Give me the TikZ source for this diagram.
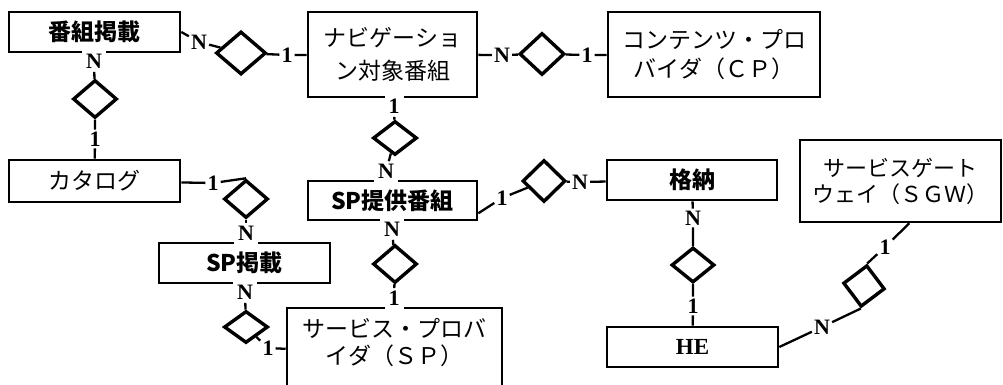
\documentclass[tikz,border=0pt]{standalone}
\usepackage{fontspec}
\setmainfont{Liberation Serif}
\newfontfamily\jp{Noto Sans CJK JP}
\usetikzlibrary{shapes.geometric,calc}
\begin{document}
\begin{tikzpicture}[x=1pt,y=-1pt,
  ent/.style={draw, line width=2.6pt, rectangle, inner sep=0pt, align=center},
  rel/.style={draw, diamond, line width=3.4pt, inner sep=0pt},
  lbl/.style={font=\bfseries\fontsize{22}{22}\selectfont, inner xsep=2pt, inner ysep=2pt},
  gaplbl/.style={lbl, fill=white, inner xsep=4pt, inner ysep=3pt},
  jfont/.style={font=\jp\fontsize{23}{#1}\selectfont},
  jbold/.style={font=\jp\bfseries\fontsize{23}{23}\selectfont},
  conn/.style={line width=2.3pt},
]
\useasboundingbox (0,0) rectangle (1003,385);
\clip (0,0) rectangle (1003,385);

% entities
\node[ent, jbold, minimum width=171pt, minimum height=40pt] (A) at (94.5,32) {番組掲載};
\node[ent, jfont=33, minimum width=169pt, minimum height=85pt] (B) at (392.5,54.5) {ナビゲーショ\\ン対象番組};
\node[ent, jfont=29, minimum width=212pt, minimum height=85pt] (C) at (714,54.5) {コンテンツ・プロ\\バイダ（ＣＰ）};
\node[ent, jfont=23, minimum width=171pt, minimum height=42pt] (D) at (94.5,181) {カタログ};
\node[ent, jbold, minimum width=169pt, minimum height=39pt] (G) at (392.5,200.5) {SP提供番組};
\node[ent, jbold, minimum width=170pt, minimum height=40pt] (H) at (692,180) {格納};
\node[ent, jbold, minimum width=171pt, minimum height=40pt] (E) at (244.5,263) {SP掲載};
\node[ent, font=\jp\fontsize{22}{26}\selectfont, minimum width=201pt, minimum height=82pt] (J) at (900.5,181) {サービスゲート\\ウェイ（ＳＧＷ）};
\node[ent, font=\bfseries\fontsize{23}{23}\selectfont, minimum width=171pt, minimum height=40pt] (I) at (692.5,347) {HE};
\node[ent, minimum width=215pt, minimum height=92pt] (F) at (394.5,354) {};
\node[jfont=27, align=center] (Ft) at (394.5,343) {サービス・プロバ\\イダ（ＳＰ）};

% relationships
\node[rel, minimum width=50pt, minimum height=43pt] (dAB) at (241,53) {};
\node[rel, minimum width=45pt, minimum height=42pt] (dBC) at (542,54) {};
\node[rel, minimum width=44pt, minimum height=38pt] (dAD) at (95,99) {};
\node[rel, minimum width=44pt, minimum height=38pt] (dDE) at (246,199) {};
\node[rel, minimum width=44pt, minimum height=34pt] (dBG) at (395,138) {};
\node[rel, minimum width=44pt, minimum height=38pt] (dGF) at (395,264) {};
\node[rel, minimum width=43pt, minimum height=42pt] (dGH) at (544,181) {};
\node[rel, minimum width=43pt, minimum height=35pt] (dHI) at (693,265) {};
\node[rel, minimum width=44pt, minimum height=32pt] (dEF) at (246,327) {};
\node[rel, minimum width=42pt, minimum height=42pt, rotate=-8] (dIJ) at (864,286) {};

% cardinality labels
\node[lbl] (nAB) at (199,42) {N};
\node[lbl] (oAB) at (287,55) {1};
\node[lbl] (nBC) at (502,55) {N};
\node[lbl] (oBC) at (587,55) {1};
\node[gaplbl, anchor=north] (nAD) at (94,51) {N};
\node[lbl] (oAD) at (95,139) {1};
\node[lbl] (oDE) at (213,183) {1};
\node[gaplbl, anchor=south] (nDE) at (246,244) {N};
\node[gaplbl, anchor=north] (nEF) at (245,282) {N};
\node[lbl] (oEF) at (268,348) {1};
\node[gaplbl, anchor=north] (oBG) at (394,96) {1};
\node[gaplbl, anchor=south] (nBG) at (386,182) {N};
\node[gaplbl, anchor=north] (nGF) at (392,219) {N};
\node[gaplbl, anchor=south] (oGF) at (394,309) {1};
\node[lbl] (oGH) at (502,198) {1};
\node[lbl] (nGH) at (580,182) {N};
\node[lbl] (nHI) at (693,218) {N};
\node[lbl] (oHI) at (693,306) {1};
\node[lbl] (nIJ) at (822,327) {N};
\node[lbl] (oIJ) at (885,247) {1};

% connectors
\draw[conn] (A.east) -- (nAB) -- (dAB) -- (oAB) -- (B);
\draw[conn] (B) -- (nBC) -- (dBC) -- (oBC) -- (C);
\draw[conn] (nAD) -- (dAD) -- (oAD) -- (D);
\draw[conn] (D) -- (oDE) -- (dDE.north);
\draw[conn] (dDE) -- (nDE);
\draw[conn] (nEF) -- (dEF) -- (oEF) -- (F);
\draw[conn] (oBG) -- (dBG) -- (nBG);
\draw[conn] (nGF) -- (dGF) -- (oGF);
\draw[conn] ($(G.south east)+(0,-8)$) -- (oGH) -- (dGH) -- (nGH) -- (H);
\draw[conn] (H) -- (nHI) -- (dHI) -- (oHI) -- (I);
\draw[conn] (I.east) -- (nIJ) -- (dIJ.south);
\draw[conn] (dIJ.north) -- (oIJ) -- ($(J.south east)+(-93,0)$);
\end{tikzpicture}
\end{document}
